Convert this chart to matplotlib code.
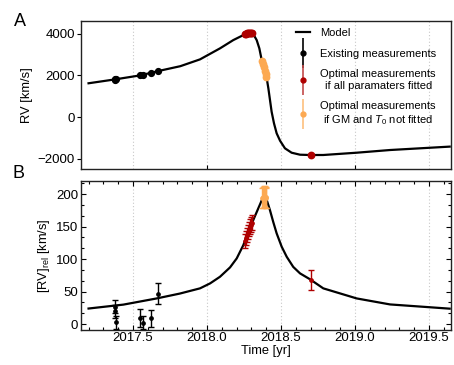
import numpy as np
import matplotlib
matplotlib.use("Agg")
import matplotlib.pyplot as plt
from matplotlib.ticker import MultipleLocator, FixedLocator, NullFormatter
from matplotlib.container import ErrorbarContainer
from matplotlib.legend_handler import HandlerErrorbar
from matplotlib.lines import Line2D

plt.rcParams['font.family'] = ['Liberation Sans', 'DejaVu Sans']
plt.rcParams['mathtext.fontset'] = 'custom'
plt.rcParams['mathtext.rm'] = 'Liberation Sans'
plt.rcParams['mathtext.it'] = 'Liberation Sans:italic'

# ---------------- data ----------------
# Model curve, panel A (time [yr], RV [km/s])
model_t_A = [2017.20, 2017.38, 2017.55, 2017.67, 2017.82, 2017.953, 2018.088, 2018.178,
             2018.246, 2018.28, 2018.296, 2018.313, 2018.336, 2018.354, 2018.370, 2018.387,
             2018.404, 2018.415, 2018.426, 2018.437, 2018.453, 2018.471, 2018.494, 2018.527,
             2018.572, 2018.629, 2018.696, 2018.786, 2019.012, 2019.237, 2019.64]
model_rv_A = [1620, 1808, 2000, 2206, 2440, 2767, 3295, 3693,
              3933, 4043, 4035, 3981, 3693, 3295, 2734, 2300,
              1856, 1376, 815, 254, -302, -782, -1137, -1501,
              -1712, -1808, -1822, -1822, -1712, -1583, -1420]

# Model curve, panel B (time [yr], [RV]_rel [km/s])
model_t_B = [2017.20, 2017.435, 2017.66, 2017.817, 2017.953, 2018.021, 2018.088, 2018.156,
             2018.201, 2018.246, 2018.279, 2018.313, 2018.347, 2018.381, 2018.404, 2018.426,
             2018.448, 2018.471, 2018.505, 2018.539, 2018.583, 2018.629, 2018.696, 2018.786,
             2019.012, 2019.237, 2019.64]
model_rv_B = [24, 30, 39.5, 47, 55, 62.6, 72.8, 87.2,
              101, 121.5, 142, 160, 178, 196, 190.8, 175,
              157, 139.5, 119, 103.5, 88, 78, 69, 55,
              39.5, 30.3, 23.8]

# Existing measurements
exist_t = [2017.376, 2017.380, 2017.384, 2017.548, 2017.570, 2017.620, 2017.670]
exist_rv_A = [1800, 1808, 1812, 2000, 2014, 2096, 2206]
exist_rv_B = [27, 20, 3, 10, 2, 9, 47]
exist_err_B = [10, 10, 10, 14, 10, 13, 16]

# Optimal measurements, all parameters fitted
opt_t = [2018.258, 2018.265, 2018.272, 2018.279, 2018.286, 2018.293, 2018.300, 2018.307, 2018.700]
opt_rv_A = [3975, 4005, 4030, 4043, 4045, 4038, 4025, 4010, -1815]
opt_rv_B = [128, 132, 137, 142, 146, 150, 153, 156, 67.5]
opt_err_B = [11, 11, 11, 11, 11, 11, 11, 11, 15]

# Optimal measurements, GM and T0 not fitted
fix_t = [2018.372, 2018.378, 2018.384, 2018.390, 2018.396, 2018.402]
fix_rv_A = [2690, 2540, 2380, 2220, 2060, 1900]
fix_rv_B = [194, 195, 196, 196, 195, 194]
fix_err_B = [16, 16, 16, 16, 16, 16]

labels = ["Model", "Existing measurements",
          "Optimal measurements\nif all paramaters fitted",
          "Optimal measurements\nif GM and $T_0$ not fitted"]

grid_years = [2017.5, 2018.0, 2018.5, 2019.0, 2019.5]
xticks_B = [2017.5, 2018.0, 2018.5, 2019.0, 2019.5]
xticklabels_B = ["2017.5", "2018.0", "2018.5", "2019.0", "2019.5"]
yticks_A = [-2000, 0, 2000, 4000]
yticks_B = [0, 50, 100, 150, 200]

# ---------------- styling ----------------
RED = '#AE0000'
ORANGE = '#FCA952'
TICK_FS = 9.5
LABEL_FS = 9.3
W, H = 454, 365
fig = plt.figure(figsize=(W / 100, H / 100), dpi=100)

def fr(l, t, r, b):
    return [l / W, 1 - b / H, (r - l) / W, (b - t) / H]

axA = fig.add_axes(fr(81, 21, 451, 169))
axB = fig.add_axes(fr(81, 181, 451, 330))

xlim = (2017.149, 2019.649)

for ax in (axA, axB):
    ax.set_xlim(*xlim)
    for g in grid_years:
        ax.axvline(g, color='#C8C8C8', lw=0.8, ls=(0, (1, 2)), zorder=0)
    for s in ax.spines.values():
        s.set_linewidth(1.0)
        s.set_color('#222222')

# Panel A
axA.plot(model_t_A, model_rv_A, color='black', lw=1.6, zorder=2)
axA.plot(exist_t, exist_rv_A, 'o', color='black', ms=4.2, zorder=3)
axA.plot(opt_t, opt_rv_A, 'o', color=RED, ms=4.6, zorder=3)
axA.plot(fix_t, fix_rv_A, 'o', color=ORANGE, ms=4.6, zorder=3)
axA.set_ylim(-2494, 4609)
axA.yaxis.set_major_locator(FixedLocator(yticks_A))
axA.tick_params(axis='y', direction='out', length=3, width=0.8, labelsize=TICK_FS, pad=1.5,
                right=False)
axA.xaxis.set_major_locator(FixedLocator([2018.0, 2019.0]))
axA.xaxis.set_major_formatter(NullFormatter())
axA.tick_params(axis='x', direction='in', length=3, width=0.8, top=False)
axA.set_ylabel("RV [km/s]", fontsize=LABEL_FS)
axA.yaxis.set_label_coords((33 - 81) / 370, 0.5)

# legend proxies
h_model = Line2D([], [], color='black', lw=1.6)
h_exist = axA.errorbar([], [], yerr=[], fmt='o', color='black', ecolor='black', ms=3.5, lw=1.2)
h_opt = axA.errorbar([], [], yerr=[], fmt='o', color=RED, ecolor='#C24A4A', ms=3.5, lw=1.2)
h_fix = axA.errorbar([], [], yerr=[], fmt='o', color=ORANGE, ecolor='#FDC07E', ms=3.5, lw=1.2)
leg = axA.legend([h_model, h_exist, h_opt, h_fix], labels, loc='upper left',
                 bbox_to_anchor=((296 - 81) / 370, (169 - 28) / 148), frameon=False,
                 fontsize=8, borderpad=0, borderaxespad=0, handlelength=1.3,
                 handletextpad=0.9, labelspacing=0.95,
                 handler_map={ErrorbarContainer: HandlerErrorbar(xerr_size=0.5, yerr_size=1.35)})
for t in leg.get_texts():
    t.set_multialignment('center')

# Panel B
axB.plot(model_t_B, model_rv_B, color='black', lw=1.6, zorder=2)
axB.errorbar(exist_t, exist_rv_B, yerr=exist_err_B, fmt='o', color='black', ms=2.4,
             lw=1.0, capsize=2, capthick=1.0, zorder=3)
axB.errorbar(opt_t, opt_rv_B, yerr=opt_err_B, fmt='o', color=RED, ms=2.4,
             lw=1.0, capsize=2, capthick=1.0, zorder=3)
axB.errorbar(fix_t, fix_rv_B, yerr=fix_err_B, fmt='o', color=ORANGE, ms=2.4,
             lw=1.0, capsize=2, capthick=1.0, zorder=3)
axB.set_ylim(-9, 220)
axB.yaxis.set_major_locator(FixedLocator(yticks_B))
axB.yaxis.set_minor_locator(MultipleLocator(50 / 3))
axB.xaxis.set_major_locator(FixedLocator(xticks_B))
axB.set_xticklabels(xticklabels_B)
axB.xaxis.set_minor_locator(MultipleLocator(0.1))
axB.tick_params(which='both', direction='in', top=True, right=True, width=0.8, labelsize=TICK_FS)
axB.tick_params(which='major', length=3.5)
axB.tick_params(which='minor', length=2)
axB.tick_params(axis='x', pad=1.5)
axB.tick_params(axis='y', pad=2)
axB.set_ylabel("[RV]$_{\\mathrm{rel}}$ [km/s]", fontsize=LABEL_FS)
axB.yaxis.set_label_coords((52 - 81) / 370, 0.5)
axB.set_xlabel("Time [yr]", fontsize=LABEL_FS)
axB.xaxis.set_label_coords(0.5, (330 - 345) / 149)

fig.text(14 / W, 1 - 21.5 / H, "A", fontsize=13, ha='left', va='center')
fig.text(13 / W, 1 - 173.5 / H, "B", fontsize=13, ha='left', va='center')

fig.savefig("out.png", dpi=100)
